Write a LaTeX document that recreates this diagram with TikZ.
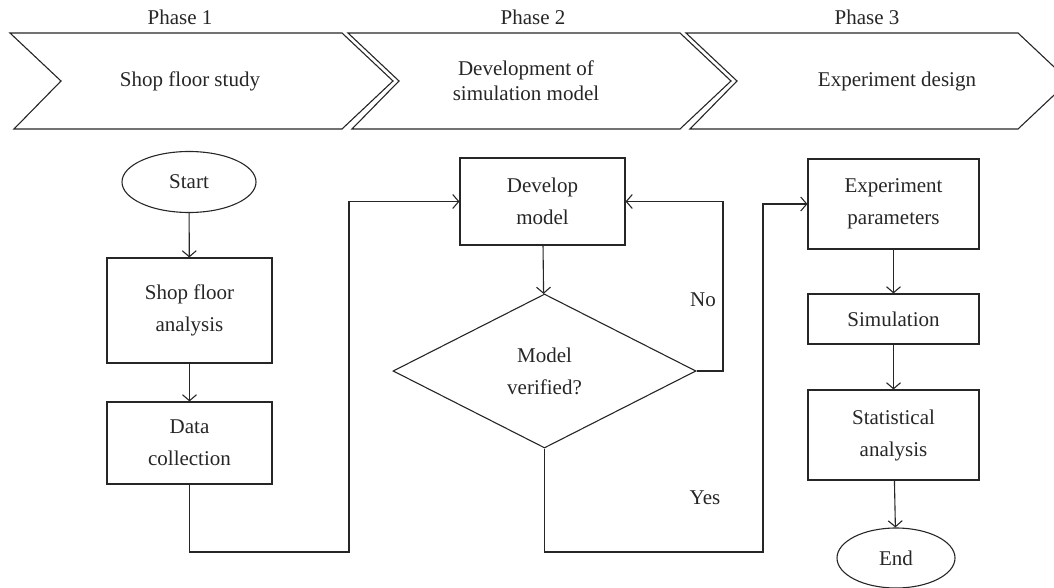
\documentclass[tikz,border=0pt]{standalone}
\usepackage{fontspec}
\setmainfont{Liberation Serif}
\usetikzlibrary{shapes.geometric,arrows.meta}
\tikzset{
  box/.style={draw, rectangle, inner sep=0pt, align=center, font=\fontsize{21}{32}\selectfont},
  term/.style={draw, ellipse, inner sep=0pt, font=\fontsize{21}{32}\selectfont},
  decide/.style={draw, diamond, aspect=2, inner sep=0pt, align=center, font=\fontsize{21}{32}\selectfont},
  fase/.style={align=center, font=\fontsize{21}{25}\selectfont},
  lbl/.style={font=\fontsize{21}{25}\selectfont},
  arr/.style={-{Straight Barb[length=6pt,width=14pt]}}
}
\begin{document}
\begin{tikzpicture}[x=1pt, y=-1pt, line width=1.1pt, color=black!85]
		\clip (0,0) rectangle (1054,588);
		% fasi
		\foreach \x in {10,348,686}
			\draw (\x,33) -- ++(332,0) -- ++(51,48) -- ++(-51,48) -- (\x+4,129) -- (\x+51,81) -- cycle;
		\node[lbl] (ph1) at (180,17) {Phase 1};
		\node[lbl] (ph2) at (533,17) {Phase 2};
		\node[lbl] (ph3) at (867,17) {Phase 3};
		\node[fase] (st1) at (190,81) {Shop floor study};
		\node[fase] (st2) at (526,81) {Development of\\simulation model};
		\node[fase] (st3) at (897,81) {Experiment design};

		% fase 1
		\node[term, minimum width=134, minimum height=61] (start) at (189,182) {Start};
		\node[box, minimum width=165, minimum height=105] (sfa) at (189.5,310.5) {Shop floor\\analysis};
		\node[box, minimum width=165, minimum height=82] (data) at (189.5,443) {Data\\collection};
		\draw[arr] (start) -- (sfa);
		\draw[arr] (sfa) -- (data);

		% fase 2
		\node[box, minimum width=165, minimum height=87] (dev) at (542.5,201.5) {Develop\\model};
		\node[decide, minimum width=303, minimum height=154] (verif) at (544.5,371) {Model\\verified?};
		\coordinate (c1) at (349,552);
		\draw[arr] (data.south) |- (c1) |- (dev.west);
		\draw[arr] (dev) -- (verif);
		\coordinate (c2) at (723,371);
		\draw[arr] (verif.east) -- (c2) |- (dev.east);
		\node[lbl] (no) at (703,300) {No};

		% fase 3
		\node[box, minimum width=171, minimum height=90] (par) at (893.5,204) {Experiment\\parameters};
		\node[box, minimum width=171, minimum height=50] (sim) at (893.5,319) {Simulation};
		\node[box, minimum width=171, minimum height=90] (stat) at (893.5,435) {Statistical\\analysis};
		\node[term, minimum width=118, minimum height=60] (end) at (896,558) {End};
		\coordinate (c3) at (763,552);
		\draw[arr] (verif.south) |- (c3) |- (par.west);
		\node[lbl] (yes) at (705,498) {Yes};
		\draw[arr] (par) -- (sim);
		\draw[arr] (sim) -- (stat);
		\draw[arr] (stat) -- (end);
	\end{tikzpicture}
\end{document}
